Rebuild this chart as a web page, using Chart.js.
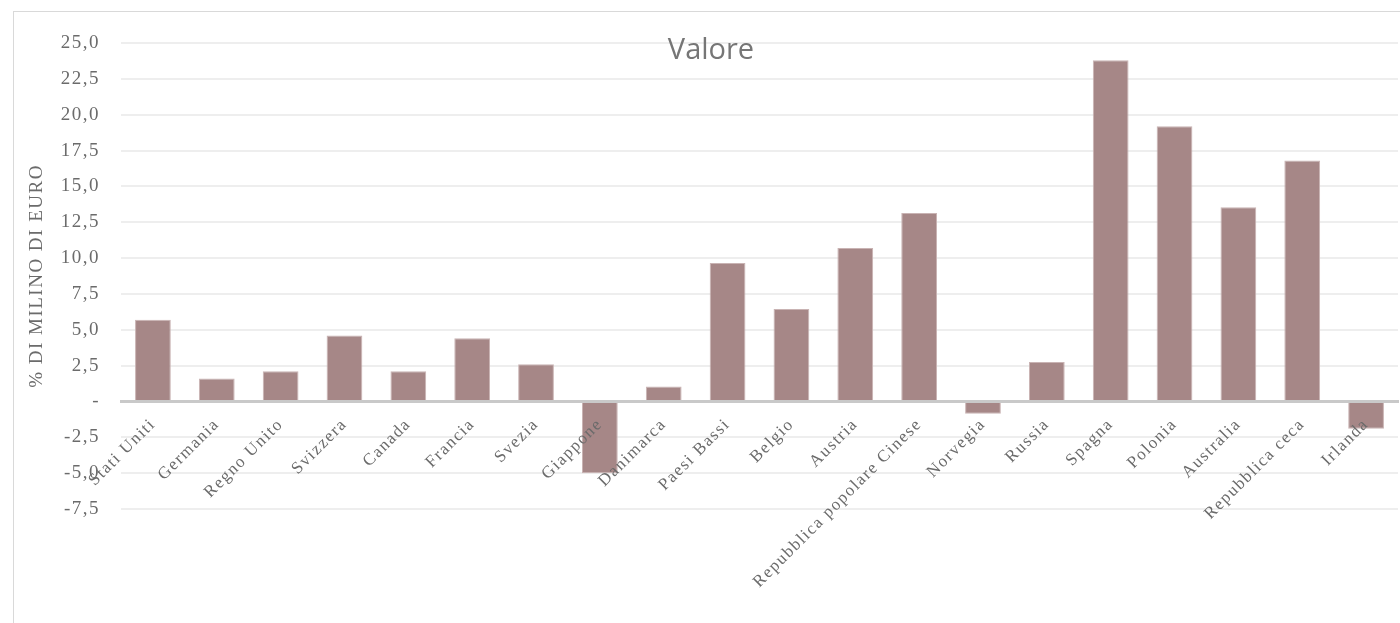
<!DOCTYPE html>
<html>
<head>
<meta charset="utf-8">
<script src="https://cdn.jsdelivr.net/npm/chart.js@4.4.1/dist/chart.umd.min.js"></script>
<style>
  html, body { margin: 0; padding: 0; background: #fff; overflow: hidden; }
  #frame { position: absolute; left: 13px; top: 11px; width: 1420px; height: 700px; border: 1px solid #d9d9d9; }
  #chart { position: absolute; left: 0; top: 0; }
</style>
</head>
<body>
<div id="frame"></div>
<canvas id="chart" width="1400" height="623"></canvas>
<script>
const paesi = ["Stati Uniti", "Germania", "Regno Unito", "Svizzera", "Canada", "Francia", "Svezia",
  "Giappone", "Danimarca", "Paesi Bassi", "Belgio", "Austria", "Repubblica popolare Cinese",
  "Norvegia", "Russia", "Spagna", "Polonia", "Australia", "Repubblica ceca", "Irlanda"];
const valore = [5.7, 1.6, 2.1, 4.6, 2.1, 4.4, 2.6, -5.0, 1.05, 9.65, 6.45, 10.7, 13.15,
  -0.85, 2.75, 23.8, 19.2, 13.55, 16.8, -1.9];
const yTickLabels = ["-7,5", "-5,0", "-2,5", "-", "2,5", "5,0", "7,5", "10,0", "12,5",
  "15,0", "17,5", "20,0", "22,5", "25,0"];

const grigio = "#6b6b6b";
Chart.defaults.font.family = "'Liberation Serif', serif";
Chart.defaults.font.size = 19;
Chart.defaults.color = grigio;

// spaziatura lettere come nel grafico Excel
const spaziatura = {
  id: "spaziatura",
  beforeUpdate(chart) { chart.ctx.letterSpacing = "1.5px"; },
  beforeDraw(chart) { chart.ctx.letterSpacing = "1.5px"; }
};

// titolo sovrapposto all'area del grafico
const titolo = {
  id: "titolo",
  afterDraw(chart) {
    const ctx = chart.ctx;
    ctx.save();
    ctx.letterSpacing = "0px";
    ctx.font = "29px 'Open Sans', sans-serif";
    ctx.fillStyle = "#767676";
    ctx.textAlign = "center";
    ctx.textBaseline = "middle";
    ctx.fillText("Valore", 711, 51);
    ctx.restore();
  }
};

new Chart(document.getElementById("chart"), {
  type: "bar",
  data: {
    labels: paesi,
    datasets: [{
      label: "Valore",
      data: valore,
      backgroundColor: "#a68787",
      borderColor: "#c9b3b3",
      borderWidth: 1,
      categoryPercentage: 1,
      barPercentage: 0.56
    }]
  },
  plugins: [spaziatura, titolo],
  options: {
    responsive: false,
    animation: false,
    devicePixelRatio: 1,
    layout: { padding: { left: 22, top: 43, right: 2, bottom: 114 } },
    plugins: {
      legend: { display: false },
      tooltip: { enabled: false }
    },
    scales: {
      x: {
        position: { y: 0 },
        afterFit(scale) { scale.paddingRight = 0; scale.paddingLeft = 0; },
        grid: { display: false },
        border: { display: true, color: "#c9c9c9", width: 3, z: 1 },
        ticks: {
          autoSkip: false,
          maxRotation: 45,
          minRotation: 45,
          padding: 5,
          z: 1,
          color: grigio,
          font: { size: 17 }
        }
      },
      y: {
        min: -7.5,
        max: 25,
        afterFit(scale) { scale.width = 99; },
        grid: { color: "#eeeeee", lineWidth: 2, drawTicks: false },
        border: { display: false },
        ticks: {
          stepSize: 2.5,
          padding: 21,
          color: grigio,
          callback: (v, i) => yTickLabels[i]
        },
        title: {
          display: true,
          text: "% DI MILINO DI EURO",
          color: grigio,
          padding: { top: 4, bottom: 4 }
        }
      }
    }
  }
});
</script>
</body>
</html>
